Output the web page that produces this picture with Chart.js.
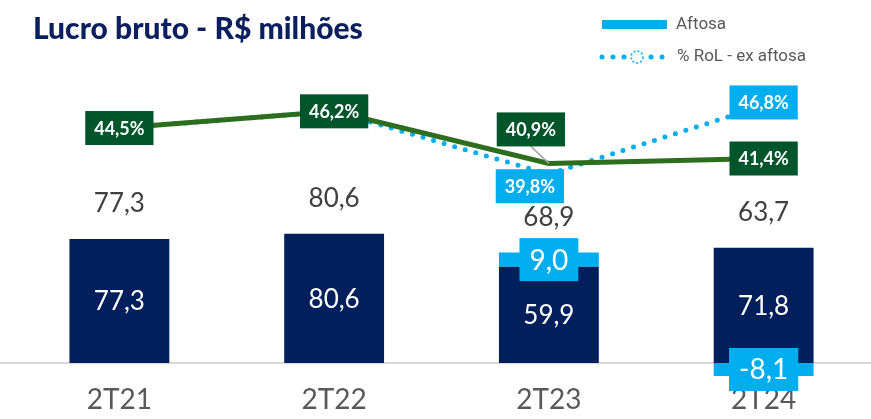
<!DOCTYPE html>
<html lang="pt-br">
<head>
<meta charset="utf-8">
<title>Lucro bruto</title>
<script src="https://cdn.jsdelivr.net/npm/chart.js@4/dist/chart.umd.min.js"></script>
<style>
    body { margin: 0; background: #fff; }
    #caixa { position: relative; width: 871px; height: 419px; }
    #titulo {
        position: absolute; left: 33px; top: 9px; margin: 0;
        font-family: Lato, sans-serif; font-weight: 900; font-size: 30px;
        color: #0b1f5e; letter-spacing: 0px;
    }
    canvas { position: absolute; left: 0; top: 0; }
</style>
</head>
<body>
<div id="caixa">
    <canvas id="grafico" width="871" height="419"></canvas>
    <h1 id="titulo">Lucro bruto - R$ milhões</h1>
</div>
<script>
// dados
const trimestres = ['2T21', '2T22', '2T23', '2T24']
const lucroExAftosa = [77.3, 80.6, 59.9, 71.8]
const aftosa = [null, null, 9.0, -8.1]
const lucroTotal = [77.3, 80.6, 68.9, 63.7]
const margem = [44.5, 46.2, 40.9, 41.4]
const margemExAftosa = [44.5, 46.2, 39.8, 46.8]

const AZUL = '#001f5b'
const CIANO = '#00aeef'
const VERDE = '#2d6e1e'
const VERDE_CX = '#00552a'

function fmt(v) {
    return v.toFixed(1).replace('.', ',')
}

// deslocamento das caixas de % em relação ao ponto
const desvioVerde = [[0, 0], [0, 0], [-18, -34], [0, 0]]
const desvioCiano = [null, null, [-19, 12], [0, -3]]

function caixa(ctx, txt, cx, cy, cor, fonte, padX, alt) {
    ctx.font = fonte
    const w = ctx.measureText(txt).width + padX * 2
    ctx.fillStyle = cor
    ctx.fillRect(cx - w / 2, cy - alt / 2, w, alt)
    ctx.fillStyle = '#fff'
    ctx.textAlign = 'center'
    ctx.textBaseline = 'middle'
    ctx.fillText(txt, cx, cy + 1)
}

const rotulos = {
    id: 'rotulos',
    beforeDatasetsDraw(chart) {
        // linha de base de ponta a ponta
        const ctx = chart.ctx
        const y0 = chart.scales.y.getPixelForValue(0)
        ctx.save()
        ctx.strokeStyle = '#d9d9d9'
        ctx.lineWidth = 2
        ctx.beginPath()
        ctx.moveTo(0, y0)
        ctx.lineTo(chart.width, y0)
        ctx.stroke()
        ctx.restore()
    },
    afterDatasetsDraw(chart) {
        const ctx = chart.ctx
        ctx.save()
        const barras = chart.getDatasetMeta(0).data
        const afto = chart.getDatasetMeta(1).data

        barras.forEach((b, i) => {
            // valor dentro da barra
            ctx.font = '26px Lato'
            ctx.fillStyle = '#fff'
            ctx.textAlign = 'center'
            ctx.textBaseline = 'middle'
            ctx.fillText(fmt(lucroExAftosa[i]), b.x, (b.y + b.base) / 2 + 1)

            // total acima
            let topo = b.y
            if (aftosa[i] > 0) topo = afto[i].y
            ctx.fillStyle = '#404040'
            ctx.fillText(fmt(lucroTotal[i]), b.x, topo - 35)
        })

        afto.forEach((b, i) => {
            if (aftosa[i] == null) return
            caixa(ctx, fmt(aftosa[i]), b.x, (b.y + b.base) / 2, CIANO, '28px Lato', 10, 43)
        })

        const linhaCiano = chart.getDatasetMeta(3).data
        linhaCiano.forEach((p, i) => {
            const d = desvioCiano[i]
            if (!d) return
            caixa(ctx, fmt(margemExAftosa[i]) + '%', p.x + d[0], p.y + d[1], CIANO, 'bold 18px Lato', 9, 34)
        })

        const linhaVerde = chart.getDatasetMeta(2).data
        linhaVerde.forEach((p, i) => {
            const d = desvioVerde[i]
            if (d[0] || d[1]) {
                ctx.strokeStyle = '#a6a6a6'
                ctx.lineWidth = 1.5
                ctx.beginPath()
                ctx.moveTo(p.x + d[0], p.y + d[1] + 17)
                ctx.lineTo(p.x, p.y)
                ctx.stroke()
            }
            caixa(ctx, fmt(margem[i]) + '%', p.x + d[0], p.y + d[1], VERDE_CX, 'bold 18px Lato', 9, 34)
        })

        // legenda
        ctx.fillStyle = CIANO
        ctx.fillRect(602, 20, 65, 9)
        ;[602, 613, 624, 651, 662].forEach(x => {
            ctx.beginPath()
            ctx.arc(x, 57, 2.5, 0, Math.PI * 2)
            ctx.fill()
        })
        ctx.fillStyle = '#fff'
        ctx.strokeStyle = CIANO
        ctx.lineWidth = 1.5
        ctx.setLineDash([2, 2])
        ctx.beginPath()
        ctx.arc(637, 57, 6, 0, Math.PI * 2)
        ctx.fill()
        ctx.stroke()
        ctx.setLineDash([])

        ctx.font = '17px Roboto'
        ctx.fillStyle = '#595959'
        ctx.textAlign = 'left'
        ctx.textBaseline = 'middle'
        ctx.fillText('Aftosa', 676, 25)
        ctx.fillText('% RoL - ex aftosa', 677, 57)
        ctx.restore()
    }
}

new Chart(document.getElementById('grafico'), {
    type: 'bar',
    data: {
        labels: trimestres,
        datasets: [
            {
                label: 'Lucro bruto ex aftosa',
                data: lucroExAftosa,
                backgroundColor: AZUL,
                stack: 's',
                clip: false,
                order: 3
            },
            {
                label: 'Aftosa',
                data: aftosa,
                backgroundColor: CIANO,
                stack: 's',
                clip: false,
                order: 3
            },
            {
                type: 'line',
                label: '% RoL',
                data: margem,
                yAxisID: 'y1',
                borderColor: VERDE,
                borderWidth: 5,
                pointRadius: 0,
                tension: 0,
                order: 1
            },
            {
                type: 'line',
                label: '% RoL - ex aftosa',
                data: margemExAftosa,
                yAxisID: 'y1',
                borderColor: CIANO,
                borderWidth: 5,
                borderDash: [0, 11],
                borderCapStyle: 'round',
                pointRadius: 0,
                tension: 0,
                order: 2
            }
        ]
    },
    options: {
        responsive: false,
        animation: false,
        layout: { padding: { left: 12, right: -6, top: 0, bottom: 0 } },
        datasets: {
            bar: { categoryPercentage: 1, barPercentage: 0.465 }
        },
        plugins: {
            legend: { display: false },
            tooltip: { enabled: false }
        },
        scales: {
            x: {
                stacked: true,
                grid: { display: false },
                border: { display: false },
                ticks: {
                    color: '#595959',
                    font: { family: 'Lato', size: 28 },
                    padding: 2
                }
            },
            y: {
                stacked: true,
                display: true,
                min: -6.5,
                max: 226.2,
                border: { display: false },
                ticks: { display: false },
                grid: { display: false, drawTicks: false },
                afterBuildTicks: s => { s.ticks = [{ value: 0 }] }
            },
            y1: {
                display: false,
                min: 19.53,
                max: 57.53
            }
        }
    },
    plugins: [rotulos]
})
</script>
</body>
</html>
